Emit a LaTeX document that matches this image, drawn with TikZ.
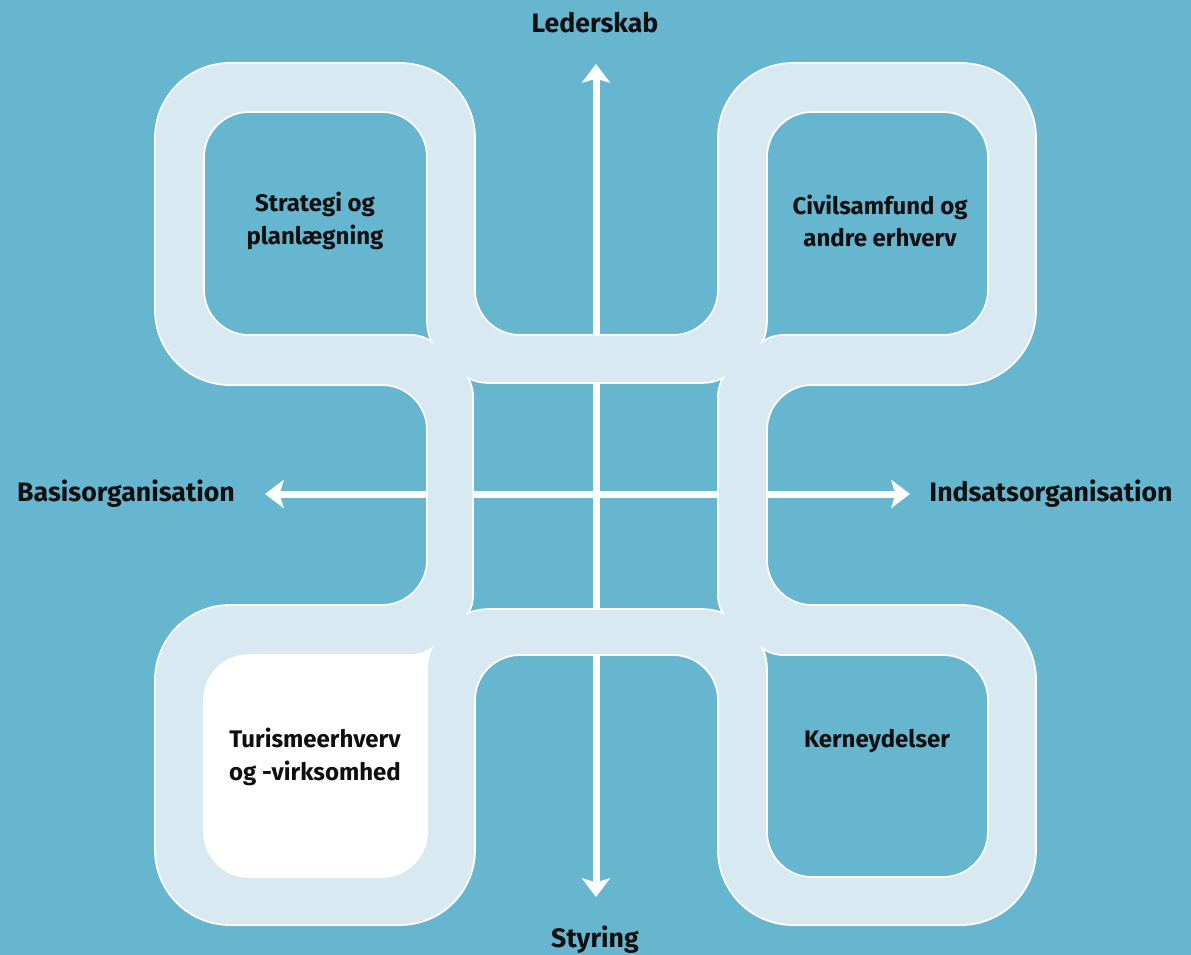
\documentclass[tikz,border=0pt]{standalone}
\usepackage{fontspec}
\setmainfont{Fira Sans}
\usetikzlibrary{arrows.meta}
\definecolor{bgblue}{RGB}{103,182,208}
\definecolor{bandc}{RGB}{217,233,241}
\definecolor{txt}{RGB}{15,15,15}
\begin{document}
\begin{tikzpicture}[x=0.75pt,y=-0.75pt,
  lbl/.style={font=\fontsize{18}{24.5}\selectfont\bfseries, text=txt, align=center, inner sep=0pt},
  axlbl/.style={font=\fontsize{20}{24}\selectfont\bfseries, text=txt, align=center, inner sep=0pt},
  axisarrow/.style={draw=white, line width=5.25pt, {Stealth[width=21pt,length=14pt,inset=3pt]}-{Stealth[width=21pt,length=14pt,inset=3pt]}},
  outline/.style={draw=white, line width=1.3pt}]
\useasboundingbox (0,0) rectangle (1191,955);
\fill[bgblue] (0,0) rectangle (1191,955);
% axis end points
\coordinate (ntip) at (596,64);
\coordinate (stip) at (596,897);
\coordinate (wtip) at (265,494);
\coordinate (etip) at (910,494);
\draw[axisarrow] (ntip) -- (stip);
\draw[axisarrow] (wtip) -- (etip);
% band shape with holes
\def\outerpath{(230,63) -- (400,63) .. controls (441.4,63) and (475,96.6) .. (475,138)
 -- (475,290) .. controls (475,314.8) and (495.2,335) .. (520,335)
 -- (673,335) .. controls (697.8,335) and (718,314.8) .. (718,290)
 -- (718,138) .. controls (718,96.6) and (751.6,63) .. (793,63)
 -- (961,63) .. controls (1002.4,63) and (1036,96.6) .. (1036,138)
 -- (1036,310) .. controls (1036,351.4) and (1002.4,385) .. (961,385)
 -- (812,385) .. controls (787.2,385) and (767,405.2) .. (767,430)
 -- (767,560) .. controls (767,584.8) and (787.2,605) .. (812,605)
 -- (961,605) .. controls (1002.4,605) and (1036,638.6) .. (1036,680)
 -- (1036,850) .. controls (1036,891.4) and (1002.4,925) .. (961,925)
 -- (793,925) .. controls (751.6,925) and (718,891.4) .. (718,850)
 -- (718,700) .. controls (718,675.2) and (697.8,655) .. (673,655)
 -- (520,655) .. controls (495.2,655) and (475,675.2) .. (475,700)
 -- (475,850) .. controls (475,891.4) and (441.4,925) .. (400,925)
 -- (230,925) .. controls (188.6,925) and (155,891.4) .. (155,850)
 -- (155,680) .. controls (155,638.6) and (188.6,605) .. (230,605)
 -- (382,605) .. controls (406.8,605) and (427,584.8) .. (427,560)
 -- (427,430) .. controls (427,405.2) and (406.8,385) .. (382,385)
 -- (230,385) .. controls (188.6,385) and (155,351.4) .. (155,310)
 -- (155,138) .. controls (155,96.6) and (188.6,63) .. (230,63) -- cycle}
\def\tlhole{(249,112) -- (382,112) .. controls (406.8,112) and (427,132.2) .. (427,157)
 -- (427,318) .. controls (427,330) and (429,337) .. (432,342)
 .. controls (425,337) and (418,335) .. (410,335)
 -- (249,335) .. controls (224.2,335) and (204,314.8) .. (204,290)
 -- (204,157) .. controls (204,132.2) and (224.2,112) .. (249,112) -- cycle}
\def\trhole{(812,112) -- (943,112) .. controls (967.8,112) and (988,132.2) .. (988,157)
 -- (988,290) .. controls (988,314.8) and (967.8,335) .. (943,335)
 -- (784,335) .. controls (776,335) and (769,337) .. (762,342)
 .. controls (765,337) and (767,330) .. (767,318)
 -- (767,157) .. controls (767,132.2) and (787.2,112) .. (812,112) -- cycle}
\def\blhole{(249,655) -- (410,655) .. controls (418,655) and (425,653) .. (432,648)
 .. controls (429,653) and (427,660) .. (427,672)
 -- (427,832) .. controls (427,856.8) and (406.8,877) .. (382,877)
 -- (249,877) .. controls (224.2,877) and (204,856.8) .. (204,832)
 -- (204,700) .. controls (204,675.2) and (224.2,655) .. (249,655) -- cycle}
\def\brhole{(762,648) .. controls (769,653) and (776,655) .. (784,655)
 -- (943,655) .. controls (967.8,655) and (988,675.2) .. (988,700)
 -- (988,832) .. controls (988,856.8) and (967.8,877) .. (943,877)
 -- (812,877) .. controls (787.2,877) and (767,856.8) .. (767,832)
 -- (767,672) .. controls (767,660) and (765,653) .. (762,648) -- cycle}
\def\chole{(468,378) .. controls (476,382) and (482,383) .. (492,383)
 -- (699,383) .. controls (709,383) and (715,382) .. (723,378)
 .. controls (719,385) and (718,390) .. (718,398)
 -- (718,594) .. controls (718,602) and (719,607) .. (723,613)
 .. controls (715,610) and (709,609) .. (699,609)
 -- (492,609) .. controls (482,609) and (476,610) .. (468,613)
 .. controls (472,607) and (473,602) .. (473,594)
 -- (473,398) .. controls (473,390) and (472,385) .. (468,378) -- cycle}
\fill[bandc, even odd rule] \outerpath \tlhole \trhole \blhole \brhole \chole;
\fill[white] \blhole;
\path[outline] \outerpath;
\path[outline] \tlhole;
\path[outline] \trhole;
\path[outline] \blhole;
\path[outline] \brhole;
\path[outline] \chole;
% labels
\node[axlbl] (lederskab) at (595,23) {Lederskab};
\node[axlbl] (styring) at (595,940) {Styring};
\node[axlbl] (basis) at (126,494) {Basisorganisation};
\node[axlbl] (indsats) at (1051,494) {Indsatsorganisation};
\node[lbl] (strategi) at (315,221) {Strategi og\\planlægning};
\node[lbl] (civil) at (880,221) {Civilsamfund og\\andre erhverv};
\node[lbl] (turisme) at (315,757) {Turismeerhverv\\og -virksomhed};
\node[lbl] (kerne) at (877,741) {Kerneydelser};
\end{tikzpicture}
\end{document}
